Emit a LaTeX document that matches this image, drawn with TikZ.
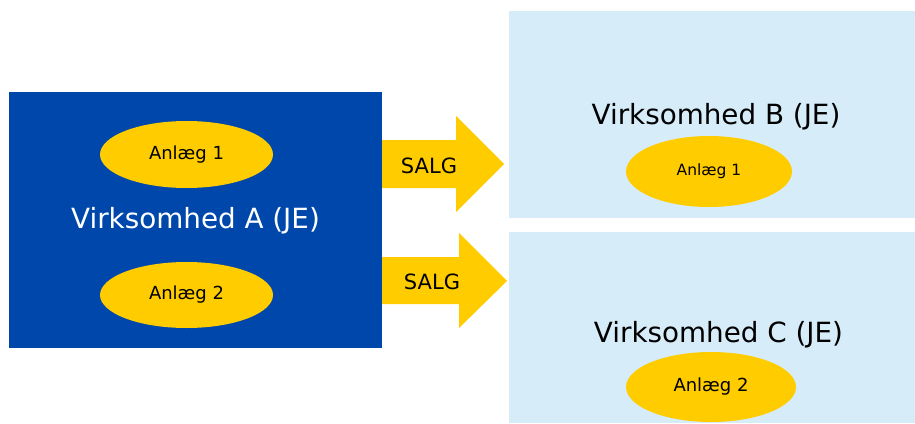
\documentclass[tikz,border=0pt]{standalone}
\usepackage{fontspec}
\setmainfont{DejaVu Sans}
\usetikzlibrary{shapes.geometric}

\definecolor{virkblaa}{RGB}{0,71,171}
\definecolor{lyseblaa}{RGB}{214,236,249}
\definecolor{gul}{RGB}{255,204,0}

\begin{document}
\begin{tikzpicture}[x=1pt,y=-1pt,
  anlaeg/.style={ellipse,fill=gul,inner sep=0pt},
  salg/.style={font=\fontsize{21}{24}\selectfont}]

\useasboundingbox (0,0) rectangle (915,423);

% virksomhed A
\fill[virkblaa] (9,92) rectangle (382,348);
\node[white,font=\fontsize{27.8}{30}\selectfont] (virkA) at (195.5,221) {Virksomhed A (JE)};
\node[anlaeg,minimum width=173,minimum height=67,font=\fontsize{18}{20}\selectfont] (a1) at (186.5,154.5) {Anlæg 1};
\node[anlaeg,minimum width=173,minimum height=66,font=\fontsize{18}{20}\selectfont] (a2) at (186.5,295) {Anlæg 2};

% virksomhed B og C
\fill[lyseblaa] (509,11) rectangle (915,218);
\fill[lyseblaa] (509,232) rectangle (915,423);
\node[font=\fontsize{27.8}{30}\selectfont] (virkB) at (716,116.5) {Virksomhed B (JE)};
\node[anlaeg,minimum width=166,minimum height=71,font=\fontsize{15.5}{18}\selectfont] (b1) at (709,171.5) {Anlæg 1};
\node[font=\fontsize{27.8}{30}\selectfont] (virkC) at (718.5,335) {Virksomhed C (JE)};
\node[anlaeg,minimum width=170,minimum height=70,font=\fontsize{18}{20}\selectfont] (c2) at (711,387) {Anlæg 2};

% pile
\fill[gul] (382,140) -- (456,140) -- (456,116) -- (504,164) -- (456,212) -- (456,188) -- (382,188) -- cycle;
\node[salg] (salg1) at (429,166) {SALG};
\fill[gul] (382,257) -- (459,257) -- (459,233) -- (507,281) -- (459,328) -- (459,304) -- (382,304) -- cycle;
\node[salg] (salg2) at (432,282) {SALG};

\end{tikzpicture}
\end{document}
